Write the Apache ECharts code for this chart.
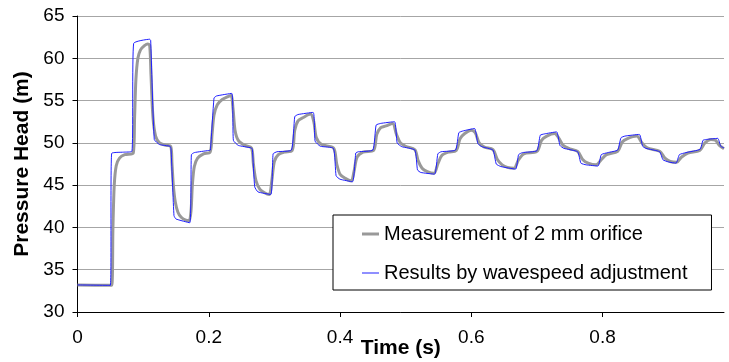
<!DOCTYPE html>
<html>
<head>
<meta charset="utf-8">
<script src="https://cdn.jsdelivr.net/npm/echarts@6/dist/echarts.min.js"></script>
<style>
html,body{margin:0;padding:0;background:#fff;}
#chart{width:729px;height:362px;}
</style>
</head>
<body>
<div id="chart"></div>
<script>
// Series names
const seriesNames = ['Measurement of 2 mm orifice', 'Results by wavespeed adjustment'];

// Measurement (gray) — time (s) and pressure head (m)
const measTime = [0,0.052,0.054,0.056,0.059,0.064,0.072,0.085,
  0.087,0.089,0.092,0.096,0.102,0.107,0.110,0.112,0.115,0.119,0.125,0.135,0.142,
  0.144,0.146,0.149,0.153,0.158,0.165,0.170,0.173,0.175,0.178,0.183,0.192,0.202,
  0.205,0.208,0.213,0.220,0.230,0.234,0.237,0.240,0.245,0.255,0.265,
  0.268,0.272,0.278,0.285,0.292,0.296,0.300,0.306,0.315,0.327,
  0.331,0.336,0.344,0.355,0.360,0.364,0.372,0.390,
  0.395,0.400,0.408,0.417,0.421,0.426,0.435,0.451,
  0.456,0.462,0.470,0.480,0.486,0.492,0.500,0.514,
  0.519,0.525,0.533,0.543,0.549,0.555,0.565,0.577,
  0.583,0.590,0.600,0.606,0.612,0.620,0.633,
  0.640,0.647,0.655,0.665,0.672,0.680,0.700,
  0.707,0.715,0.727,0.733,0.740,0.750,0.762,
  0.770,0.778,0.790,0.798,0.806,0.823,
  0.830,0.838,0.852,0.860,0.868,0.887,
  0.895,0.903,0.913,0.920,0.930,0.948,
  0.956,0.965,0.972,0.978,0.985];
const measHead = [33.2,33.15,40,45,47.3,48.2,48.6,48.8,
  53,57.5,60,61.0,61.5,61.7,61.5,58,53,50.8,50.0,49.7,49.6,
  47.5,45,43,41.8,41.2,40.85,40.8,42,45,47.2,48.2,48.7,48.9,
  51,53.3,54.5,55.1,55.5,55.6,54,51.5,50.3,49.7,49.4,
  47.5,45.5,44.5,44.1,43.9,45.5,47.8,48.6,48.9,49.1,
  51.5,52.6,53.0,53.4,52.5,50.6,49.8,49.4,
  47.5,46.3,45.8,45.5,46.5,48.3,48.9,49.1,
  51.0,51.8,52.0,52.3,51.0,50.0,49.6,49.2,
  47.9,47.0,46.6,46.4,47.5,48.5,48.9,49.1,
  50.5,51.1,51.5,51.2,50.0,49.5,49.2,
  48.0,47.4,47.1,47.0,48.0,48.7,49.0,
  50.3,50.8,51.1,50.6,49.7,49.3,49.0,
  48.0,47.6,47.4,48.0,48.6,49.0,
  50.1,50.5,50.8,50.0,49.4,49.0,
  48.2,47.8,47.7,48.3,48.8,49.1,
  50.0,50.4,50.3,49.7,49.3];

// Model (blue) — time (s) and pressure head (m)
const modelTime = [0,0.050,0.052,0.070,0.083,
  0.0855,0.110,0.1115,0.117,0.125,0.141,
  0.1425,0.147,0.150,0.171,
  0.1735,0.178,0.200,
  0.2025,0.208,0.212,0.235,
  0.2375,0.245,0.265,
  0.2665,0.270,0.275,0.2945,
  0.298,0.304,0.326,
  0.331,0.336,0.359,
  0.362,0.370,0.390,
  0.394,0.400,0.419,
  0.424,0.428,0.450,
  0.455,0.462,0.483,
  0.487,0.494,0.514,
  0.518,0.523,0.544,
  0.549,0.554,0.576,
  0.581,0.587,0.605,
  0.610,0.616,0.633,
  0.638,0.645,0.6675,
  0.672,0.678,0.700,
  0.705,0.711,0.730,
  0.735,0.741,0.762,
  0.767,0.775,0.793,
  0.798,0.808,0.823,
  0.828,0.834,0.856,
  0.861,0.866,0.887,
  0.892,0.900,0.912,
  0.917,0.927,0.9486,
  0.953,0.958,0.9755,
  0.980,0.985];
const modelHead = [33.2,33.15,48.75,48.9,49.0,
  61.75,62.25,62.1,50.4,49.8,49.6,
  49.3,41.4,41.0,40.55,
  48.6,48.85,49.1,
  49.15,55.3,55.55,55.85,
  50.3,49.7,49.4,
  49.2,44.8,44.2,43.9,
  48.7,48.95,49.15,
  53.1,53.35,53.6,
  50.2,49.6,49.35,
  46.1,45.7,45.4,
  48.8,48.95,49.15,
  52.1,52.3,52.5,
  50.0,49.55,49.15,
  46.8,46.5,46.3,
  48.7,48.95,49.15,
  51.2,51.4,51.7,
  49.9,49.55,49.15,
  47.5,47.2,46.9,
  48.6,48.85,49.07,
  50.9,51.05,51.3,
  49.7,49.35,48.95,
  47.6,47.4,47.26,
  48.6,48.85,49.15,
  50.6,50.8,51.0,
  49.6,49.35,48.95,
  48.0,47.75,47.6,
  48.6,48.85,49.24,
  50.3,50.4,50.53,
  49.6,49.4];

// Axis ticks
const xTicks = [0, 0.2, 0.4, 0.6, 0.8];
const xMin = 0, xMax = 0.985;
const yMin = 30, yMax = 65, yStep = 5;

const zip = (a, b) => a.map((t, i) => [t, b[i]]);

const grayColor = '#999999';
const blueColor = '#1f1fff';

const chart = echarts.init(document.getElementById('chart'), null, {renderer: 'canvas'});
const font = 'Liberation Sans, Arial, sans-serif';
chart.setOption({
  animation: false,
  backgroundColor: '#fff',
  grid: {left: 77.5, right: 5, top: 16, bottom: 50, containLabel: false, outerBoundsMode: 'none'},
  xAxis: {
    type: 'value', min: xMin, max: xMax,
    name: 'Time (s)', nameLocation: 'middle', nameGap: 26, nameMoveOverlap: false,
    nameTextStyle: {fontFamily: font, fontSize: 21, fontWeight: 'bold', color: '#000'},
    axisLine: {lineStyle: {color: '#000', width: 1}},
    axisTick: {show: true, length: 5, lineStyle: {color: '#000'}, customValues: xTicks},
    axisLabel: {customValues: xTicks, fontFamily: font, fontSize: 19, color: '#000', margin: 16,
      formatter: v => String(+v.toFixed(1))},
    splitLine: {show: false}
  },
  yAxis: {
    type: 'value', min: yMin, max: yMax, interval: yStep,
    name: 'Pressure Head (m)', nameLocation: 'middle', nameGap: 45, nameMoveOverlap: false,
    nameTextStyle: {fontFamily: font, fontSize: 21, fontWeight: 'bold', color: '#000'},
    axisLine: {show: true, lineStyle: {color: '#000', width: 1}},
    axisTick: {show: true, length: 5, lineStyle: {color: '#000'}},
    axisLabel: {fontFamily: font, fontSize: 19, color: '#000', margin: 13},
    splitLine: {show: true, lineStyle: {color: '#a6a6a6', width: 1}}
  },
  legend: {
    orient: 'vertical', left: 333, top: 215,
    padding: [9, 24, 7, 29], itemGap: 19,
    itemWidth: 17, itemHeight: 14,
    backgroundColor: '#fff', borderColor: '#000', borderWidth: 1,
    textStyle: {fontFamily: font, fontSize: 20, color: '#000'},
    data: [
      {name: seriesNames[0], icon: 'path://M0,0H17V3H0Z', itemStyle: {color: grayColor, borderWidth: 0}},
      {name: seriesNames[1], icon: 'path://M0,0H17V1H0Z', itemStyle: {color: blueColor, borderWidth: 0}}
    ]
  },
  series: [
    {name: seriesNames[0], type: 'line', data: zip(measTime, measHead), symbol: 'none',
      smooth: 0.3, lineStyle: {color: grayColor, width: 3}, itemStyle: {color: grayColor}, z: 2},
    {name: seriesNames[1], type: 'line', data: zip(modelTime, modelHead), symbol: 'none',
      smooth: 0.15, lineStyle: {color: blueColor, width: 1}, itemStyle: {color: blueColor}, z: 3}
  ]
});
</script>
</body>
</html>
